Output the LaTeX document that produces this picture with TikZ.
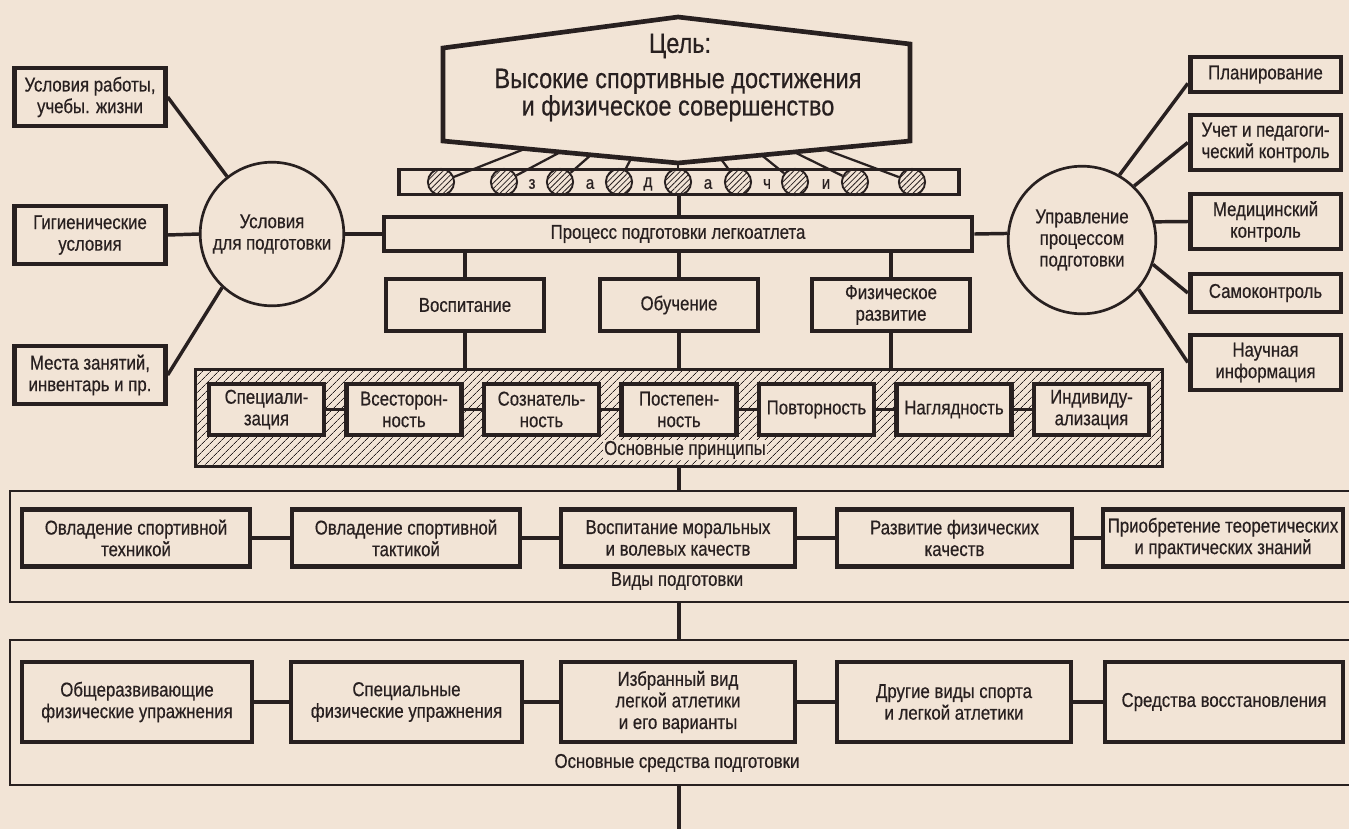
\documentclass[tikz,border=0pt]{standalone}
\usepackage{fontspec}
\setmainfont{Liberation Sans}[FakeStretch=0.84,FakeBold=0.5]
\usetikzlibrary{calc,patterns.meta}

\definecolor{paper}{RGB}{242,228,214}
\definecolor{ink}{RGB}{40,32,32}

\tikzset{
  txt/.style={text=ink, font=\fontsize{15}{16.2}\selectfont, align=center},
  goaltxt/.style={text=ink, font=\fontsize{21}{17.5}\selectfont, align=center},
  box/.style={txt, draw=ink, line width=3.5pt, inner sep=1pt},
  sidebox/.style={box, minimum width=113pt, minimum height=43.5pt},
  rbox/.style={box, minimum width=113pt},
  midbox/.style={box, minimum width=118.5pt, minimum height=39pt},
  prbox/.style={box, fill=paper, minimum width=86.25pt, minimum height=38.25pt},
  kindbox/.style={box, minimum height=42.75pt},
  meanbox/.style={box, minimum height=60pt},
  bigcirc/.style={txt, circle, draw=ink, line width=2pt, inner sep=0pt},
  task/.style={circle, draw=ink, line width=1.4pt, minimum size=19.7pt, inner sep=0pt,
    pattern={Lines[angle=45,distance=3pt,line width=0.6pt]}, pattern color=ink},
  conn/.style={draw=ink, line width=2.6pt},
  thinconn/.style={draw=ink, line width=1.7pt},
  frame/.style={draw=ink, line width=2pt},
}

\begin{document}
\begin{tikzpicture}[x=0.75pt,y=0.75pt,yscale=-1,xscale=1]
\useasboundingbox (0,0) rectangle (1349,829);
\fill[paper] (0,0) rectangle (1349,829);

%Shape: Hexagon (goal)
\draw[ink, line width=3.5pt, line join=miter] (443,48) -- (678,17) -- (910,44) -- (910,141) -- (678,163) -- (443,141) -- cycle ;
\coordinate (hexL) at (443,141);
\coordinate (hexB) at (678,163);
\coordinate (hexR) at (910,141);
\node[goaltxt] (goalhead) at (680,46) {Цель:};
\node[goaltxt] (goal) at (678,95) {Высокие спортивные достижения\\и физическое совершенство};

%Shape: Rectangle (tasks bar)
\node[draw=ink, line width=2.4pt, minimum width=420pt, minimum height=18.8pt] (tasks) at (679,182) {};
%Shape: Circles (tasks)
\node[task] (t1) at (441,182) {};
\node[task] (t2) at (504,182) {};
\node[task] (t3) at (560,182) {};
\node[task] (t4) at (619,182) {};
\node[task] (t5) at (678,182) {};
\node[task] (t6) at (738,182) {};
\node[task] (t7) at (795,182) {};
\node[task] (t8) at (855,182) {};
\node[task] (t9) at (912,182) {};
\node[txt, font=\fontsize{13.5}{14}\selectfont] (l1) at (532,184) {з};
\node[txt, font=\fontsize{13.5}{14}\selectfont] (l2) at (590,184) {а};
\node[txt, font=\fontsize{13.5}{14}\selectfont] (l3) at (648,184) {д};
\node[txt, font=\fontsize{13.5}{14}\selectfont] (l4) at (708,184) {а};
\node[txt, font=\fontsize{13.5}{14}\selectfont] (l5) at (767,184) {ч};
\node[txt, font=\fontsize{13.5}{14}\selectfont] (l6) at (826,184) {и};
%Straight Lines (goal to tasks)
\draw[thinconn] (t1) -- ($(hexL)!0.35!(hexB)$) ;
\draw[thinconn] (t2) -- ($(hexL)!0.50!(hexB)$) ;
\draw[thinconn] (t3) -- ($(hexL)!0.63!(hexB)$) ;
\draw[thinconn] (t4) -- ($(hexL)!0.80!(hexB)$) ;
\draw[thinconn] (t5) -- (hexB) ;
\draw[thinconn] (t6) -- ($(hexB)!0.185!(hexR)$) ;
\draw[thinconn] (t7) -- ($(hexB)!0.36!(hexR)$) ;
\draw[thinconn] (t8) -- ($(hexB)!0.50!(hexR)$) ;
\draw[thinconn] (t9) -- ($(hexB)!0.63!(hexR)$) ;

%Shape: Rectangle (process)
\node[box, minimum width=441pt, minimum height=25.5pt] (proc) at (678,234) {Процесс подготовки легкоатлета};
\draw[conn] (tasks.south) -- (tasks.south |- proc.north) ;

%Shape: Circle (conditions)
\node[bigcirc, minimum size=107.7pt] (cond) at (272,234) {Условия\\для подготовки};
\node[sidebox] (uwork) at (90,97) {Условия работы,\\учебы. жизни};
\node[sidebox] (uhyg) at (90,235) {Гигиенические\\условия};
\node[sidebox] (uplace) at (90,375) {Места занятий,\\инвентарь и пр.};
\draw[conn] (cond.128) -- (uwork.east) ;
\draw[conn] (cond.west) -- (uhyg.east) ;
\draw[conn] (cond.-133) -- (uplace.east) ;
\draw[conn] (proc.west) -- (cond.east) ;

%Shape: Circle (management)
\node[bigcirc, minimum size=110.7pt] (mgmt) at (1082,240) {Управление\\процессом\\подготовки};
\node[rbox, minimum height=26.25pt] (plan) at (1265.5,74.5) {Планирование};
\node[rbox, minimum height=41.25pt] (ucet) at (1265.5,142.5) {Учет и педагоги-\\ческий контроль};
\node[rbox, minimum height=41.25pt] (med) at (1265.5,221.5) {Медицинский\\контроль};
\node[rbox, minimum height=28.5pt] (samo) at (1265.5,293) {Самоконтроль};
\node[rbox, minimum height=41.25pt] (nauch) at (1265.5,362.5) {Научная\\информация};
\draw[conn] (mgmt.60) -- ($(plan.south west)+(0,-11)$) ;
\draw[conn] (mgmt.46) -- (ucet.west) ;
\draw[conn] (mgmt.14) -- (med.west) ;
\draw[conn] (mgmt.-19) -- (samo.west) ;
\draw[conn] (mgmt.-41) -- (nauch.west) ;
\draw[conn] (proc.east) -- (mgmt.175) ;

%Shape: Rectangles (education, training, development)
\node[midbox] (vosp) at (465,305) {Воспитание};
\node[midbox] (obuch) at (679,305) {Обучение};
\node[midbox] (fiz) at (891,305) {Физическое\\развитие};
\draw[conn] (vosp.north) -- (vosp.north |- proc.south) ;
\draw[conn] (obuch.north) -- (obuch.north |- proc.south) ;
\draw[conn] (fiz.north) -- (fiz.north |- proc.south) ;

%Shape: Hatched Rectangle (principles)
\node[draw=ink, line width=2.4pt, minimum width=725.3pt, minimum height=72.8pt,
  pattern={Lines[angle=45,distance=4pt,line width=0.6pt]}, pattern color=ink] (princ) at (679,418) {};
\draw[conn] (vosp.south) -- (vosp.south |- princ.north) ;
\draw[conn] (obuch.south) -- (obuch.south |- princ.north) ;
\draw[conn] (fiz.south) -- (fiz.south |- princ.north) ;
\node[prbox] (p1) at (266.5,409.5) {Специали-\\зация};
\node[prbox] (p2) at (404,409.5) {Всесторон-\\ность};
\node[prbox] (p3) at (541.5,409.5) {Сознатель-\\ность};
\node[prbox] (p4) at (679,409.5) {Постепен-\\ность};
\node[prbox] (p5) at (816.5,409.5) {Повторность};
\node[prbox] (p6) at (954,409.5) {Наглядность};
\node[prbox] (p7) at (1091.5,409.5) {Индивиду-\\ализация};
\draw[conn] (p1.east) -- (p2.west) ;
\draw[conn] (p2.east) -- (p3.west) ;
\draw[conn] (p3.east) -- (p4.west) ;
\draw[conn] (p4.east) -- (p5.west) ;
\draw[conn] (p5.east) -- (p6.west) ;
\draw[conn] (p6.east) -- (p7.west) ;
\node[txt, fill=paper, inner sep=1pt] (princlab) at (685,450) {Основные принципы};

%Shape: Open Frame (kinds of training)
\coordinate (vidytop) at (679,491);
\coordinate (vidybot) at (679,602);
\draw[frame] (1360,491) -- (10,491) -- (10,602) -- (1360,602) ;
\draw[conn] (princ.south) -- (vidytop) ;
\node[kindbox, minimum width=171pt] (v1) at (136,538) {Овладение спортивной\\техникой};
\node[kindbox, minimum width=171pt] (v2) at (406,538) {Овладение спортивной\\тактикой};
\node[kindbox, minimum width=175.5pt] (v3) at (678,538) {Воспитание моральных\\и волевых качеств};
\node[kindbox, minimum width=176.25pt] (v4) at (954.5,538) {Развитие физических\\качеств};
\node[kindbox, minimum width=180pt] (v5) at (1223,538) {Приобретение теоретических\\и практических знаний};
\draw[conn] (v1.east) -- (v2.west) ;
\draw[conn] (v2.east) -- (v3.west) ;
\draw[conn] (v3.east) -- (v4.west) ;
\draw[conn] (v4.east) -- (v5.west) ;
\node[txt] (vidylab) at (677,581) {Виды подготовки};

%Shape: Open Frame (main means)
\coordinate (sredtop) at (679,640);
\coordinate (sredbot) at (679,785);
\coordinate (downend) at (679,829);
\draw[frame] (1360,640) -- (10,640) -- (10,785) -- (1360,785) ;
\draw[conn] (vidybot) -- (sredtop) ;
\draw[conn] (sredbot) -- (downend) ;
\node[meanbox, minimum width=172.5pt] (s1) at (137,702) {Общеразвивающие\\физические упражнения};
\node[meanbox, minimum width=173.25pt] (s2) at (406.5,702) {Специальные\\физические упражнения};
\node[meanbox, minimum width=175.5pt] (s3) at (678,702) {Избранный вид\\легкой атлетики\\и его варианты};
\node[meanbox, minimum width=175.5pt] (s4) at (954,702) {Другие виды спорта\\и легкой атлетики};
\node[meanbox, minimum width=178.5pt] (s5) at (1224,702) {Средства восстановления};
\draw[conn] (s1.east) -- (s2.west) ;
\draw[conn] (s2.east) -- (s3.west) ;
\draw[conn] (s3.east) -- (s4.west) ;
\draw[conn] (s4.east) -- (s5.west) ;
\node[txt] (sredlab) at (677,763) {Основные средства подготовки};

\end{tikzpicture}
\end{document}
